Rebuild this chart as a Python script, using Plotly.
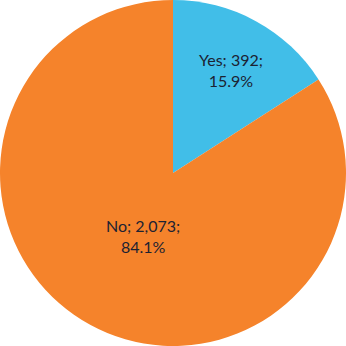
import plotly.graph_objects as go

labels = ["Yes", "No"]
values = [392, 2073]
colors = ["#41BEE8", "#F5832B"]

total = sum(values)
label_texts = [f"{l}; {v:,};<br>{v / total * 100:.1f}%" for l, v in zip(labels, values)]
# label anchor positions (paper fraction) for each slice's text
label_pos = [(0.668, 0.798), (0.413, 0.318)]

fig = go.Figure(go.Pie(
    labels=labels,
    values=values,
    sort=False,
    direction="clockwise",
    rotation=0,
    marker=dict(colors=colors, line=dict(width=0)),
    textinfo="none",
    hoverinfo="label+value+percent",
    showlegend=False,
))

for txt, (x, y) in zip(label_texts, label_pos):
    fig.add_annotation(
        x=x, y=y, xref="paper", yref="paper",
        text=txt, showarrow=False,
        xanchor="center", yanchor="middle", align="center",
        font=dict(family="Lato", size=16, color="#1C2232"),
    )

fig.update_layout(
    width=346, height=346,
    margin=dict(l=0, r=0, t=0, b=0),
    paper_bgcolor="white",
    plot_bgcolor="white",
)

fig.write_html("out.html")
